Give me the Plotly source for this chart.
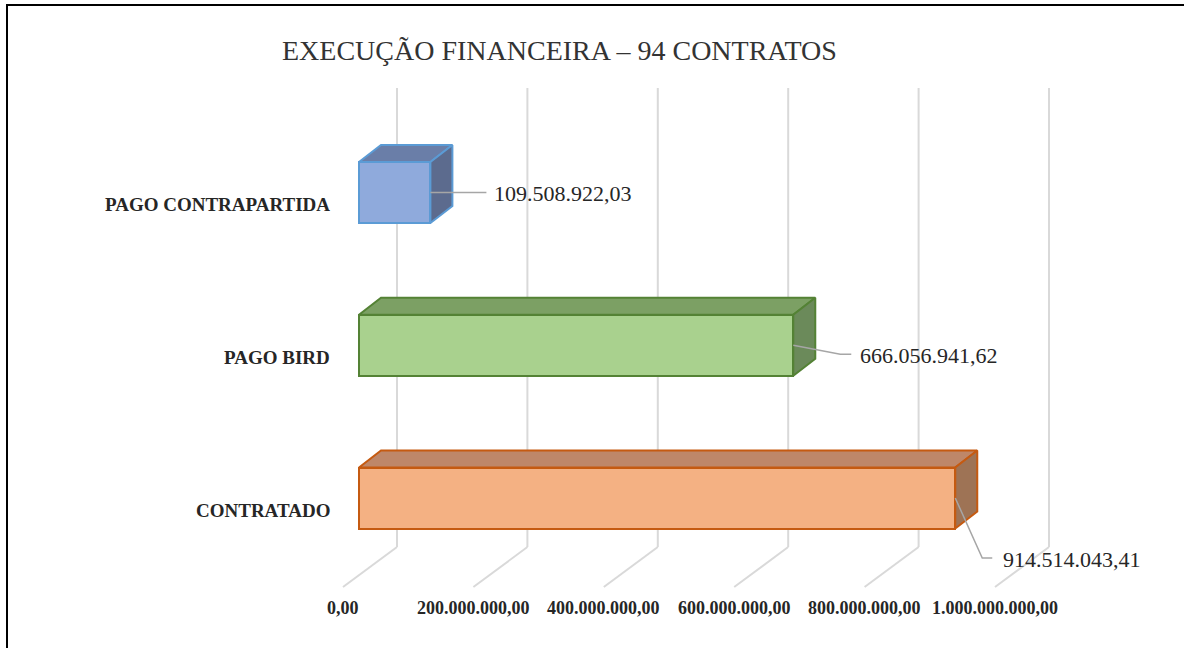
import plotly.graph_objects as go

# ---------------- data ----------------
categories = ["CONTRATADO", "PAGO BIRD", "PAGO CONTRAPARTIDA"]
values = [914514043.41, 666056941.62, 109508922.03]
value_labels = ["914.514.043,41", "666.056.941,62", "109.508.922,03"]
tick_values = [0, 200e6, 400e6, 600e6, 800e6, 1000e6]
tick_labels = ["0,00", "200.000.000,00", "400.000.000,00", "600.000.000,00",
               "800.000.000,00", "1.000.000.000,00"]
title_text = "EXECUÇÃO FINANCEIRA – 94 CONTRATOS"

# ---------------- styles ----------------
front_colors = ["#F4B183", "#A9D18E", "#8FAADC"]
top_colors = ["#BE8769", "#7CA064", "#6A7EA8"]
side_colors = ["#9E7355", "#6B8A5A", "#5C6B8E"]
edge_colors = ["#C55A11", "#548235", "#5B9BD5"]
FONT = "'Liberation Serif', 'Times New Roman', Times, serif"

W, H = 1184, 648
X0 = 359.0            # pixel of value 0 on bar front plane
K = 0.652e-6          # pixels per unit value
Y0 = 498.0            # pixel of category index 0
S = 152.75            # pixels per category step


def dxv(px):
    return px / K


def dyi(px):
    return px / S


def ypix(p):
    return (Y0 - p) / S


BAR_H = dyi(61)
DEPTH_X, DEPTH_Y = dxv(22), dyi(17)
WALL_DX = dxv(38)
FLOOR_DX = dxv(-16)

fig = go.Figure()

# gridlines (back wall + floor)
shapes = []
for t in tick_values:
    shapes.append(dict(type="line", xref="x", yref="y", layer="below",
                       x0=t + WALL_DX, x1=t + WALL_DX, y0=ypix(547), y1=ypix(88),
                       line=dict(color="#D9D9D9", width=2)))
    shapes.append(dict(type="line", xref="x", yref="y", layer="below",
                       x0=t + WALL_DX, x1=t + FLOOR_DX, y0=ypix(547), y1=ypix(587),
                       line=dict(color="#D9D9D9", width=2)))

# border
shapes.append(dict(type="rect", xref="paper", yref="paper",
                   x0=7 / W, x1=1.05, y0=-0.05, y1=1 - 5 / H,
                   line=dict(color="#000000", width=2), fillcolor="rgba(0,0,0,0)"))

# front faces
fig.add_trace(go.Bar(
    y=list(range(len(categories))), x=values, base=0, orientation="h",
    width=BAR_H, marker=dict(color=front_colors,
                             line=dict(color=edge_colors, width=2)),
    hoverinfo="skip", showlegend=False))

# top and side faces
for i, v in enumerate(values):
    top = i + BAR_H / 2
    bot = i - BAR_H / 2
    fig.add_trace(go.Scatter(
        x=[0, v, v + DEPTH_X, DEPTH_X, 0],
        y=[top, top, top + DEPTH_Y, top + DEPTH_Y, top],
        fill="toself", fillcolor=top_colors[i], mode="lines",
        line=dict(color=edge_colors[i], width=2), hoverinfo="skip", showlegend=False))
    fig.add_trace(go.Scatter(
        x=[v, v, v + DEPTH_X, v + DEPTH_X, v],
        y=[bot, top, top + DEPTH_Y, bot + DEPTH_Y, bot],
        fill="toself", fillcolor=side_colors[i], mode="lines",
        line=dict(color=edge_colors[i], width=2), hoverinfo="skip", showlegend=False))

# data labels with leader lines
leader = [  # (elbow dx, elbow dy, end dx, label dx) in pixels
    (27, 60, 37, 46),
    (47, 9, 58, 65),
    (56, 0, 56, 62),
]
annotations = []
for i, v in enumerate(values):
    ex, ey, end_x, lx = leader[i]
    fig.add_trace(go.Scatter(
        x=[v, v + dxv(ex), v + dxv(end_x)],
        y=[i, i - dyi(ey), i - dyi(ey)],
        mode="lines", line=dict(color="#A6A6A6", width=1.5),
        hoverinfo="skip", showlegend=False))
    annotations.append(dict(x=v + dxv(lx), y=i - dyi(ey + 1), xref="x", yref="y",
                            text=value_labels[i], showarrow=False, xanchor="left",
                            yanchor="middle",
                            font=dict(family=FONT, size=22, color="#262626")))

# category labels
for i, c in enumerate(categories):
    annotations.append(dict(x=dxv(-27), y=i - dyi(12), xref="x", yref="y",
                            text="<b>" + c + "</b>", showarrow=False, xanchor="right",
                            yanchor="middle",
                            font=dict(family=FONT, size=19, color="#262626")))

# tick labels
for t, lab in zip(tick_values, tick_labels):
    annotations.append(dict(x=t + FLOOR_DX, y=ypix(608), xref="x", yref="y",
                            text="<b>" + lab + "</b>", showarrow=False, xanchor="center",
                            yanchor="middle",
                            font=dict(family=FONT, size=18, color="#262626")))

# title
annotations.append(dict(x=559 / W, y=1 - 50 / H, xref="paper", yref="paper",
                        text=title_text, showarrow=False, xanchor="center",
                        yanchor="middle",
                        font=dict(family=FONT, size=28, color="#333333")))

fig.update_layout(
    width=W, height=H, margin=dict(l=0, r=0, t=0, b=0),
    paper_bgcolor="white", plot_bgcolor="white",
    xaxis=dict(range=[-X0 / K, (W - X0) / K], visible=False, fixedrange=True),
    yaxis=dict(range=[(Y0 - H) / S, Y0 / S], visible=False, fixedrange=True),
    shapes=shapes, annotations=annotations, bargap=0,
)

fig.write_html("out.html", config={"displayModeBar": False},
               post_script="document.body.style.margin='0';"
                           "document.body.style.overflow='hidden';")
